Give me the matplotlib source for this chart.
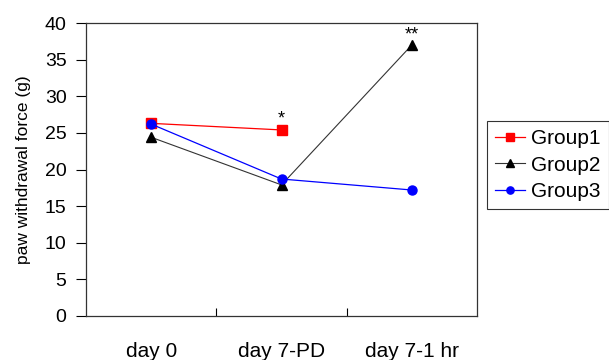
import matplotlib
matplotlib.use("Agg")
import matplotlib.pyplot as plt

plt.rcParams['font.family'] = ['Liberation Sans', 'DejaVu Sans']

categories = ["day 0", "day 7-PD", "day 7-1 hr"]
group1 = [26.3, 25.4, None]
group2 = [24.4, 17.9, 37.0]
group3 = [26.2, 18.7, 17.2]
yticks = [0, 5, 10, 15, 20, 25, 30, 35, 40]

fig = plt.figure(figsize=(6.09, 3.6), dpi=100)
ax = fig.add_axes([86/609, 1-316/360, (477-86)/609, (316-23)/360])

x = list(range(len(categories)))
x1 = [i for i, v in zip(x, group1) if v is not None]
y1 = [v for v in group1 if v is not None]
ax.plot(x1, y1, color='#ff0000', lw=0.9, marker='s', ms=6.5, mfc='#ff0000', mec='#ff0000', label='Group1', zorder=3)
ax.plot(x, group2, color='#333333', lw=0.8, marker='^', ms=7.5, mfc='black', mec='black', label='Group2', zorder=2)
ax.plot(x, group3, color='#0000ff', lw=0.9, marker='o', ms=6.5, mfc='#0000ff', mec='#0000ff', label='Group3', zorder=4)

ax.text(1, group1[1] + 1.5, '*', ha='center', va='center', fontsize=13)
ax.text(2, group2[2] + 1.3, '**', ha='center', va='center', fontsize=13)

ax.set_xlim(-0.5, 2.5)
ax.set_ylim(0, 40)
ax.set_yticks(yticks)
ax.set_yticklabels([str(t) for t in yticks], fontsize=14)
ax.tick_params(axis='y', direction='out', length=7, width=0.8, pad=7)

ax.set_xticks([0.5, 1.5])
ax.set_xticklabels(['', ''])
ax.set_xticks(x, minor=True)
ax.set_xticklabels(categories, minor=True, fontsize=15)
ax.tick_params(axis='x', which='major', direction='in', length=6, width=0.8)
ax.tick_params(axis='x', which='minor', length=0, pad=19)

for s in ax.spines.values():
    s.set_linewidth(0.9)
    s.set_color('#333333')

ax.set_ylabel('paw withdrawal force (g)', fontsize=12.5, labelpad=10)

leg = fig.legend(loc='upper left', bbox_to_anchor=(487/609, 1-121/360), fontsize=15,
                 frameon=True, fancybox=False, edgecolor='black', handlelength=1.4,
                 handletextpad=0.3, borderpad=0.4, labelspacing=0.35, borderaxespad=0,
                 markerscale=0.8)
leg.get_frame().set_linewidth(0.8)

fig.savefig('out.png', dpi=100)
